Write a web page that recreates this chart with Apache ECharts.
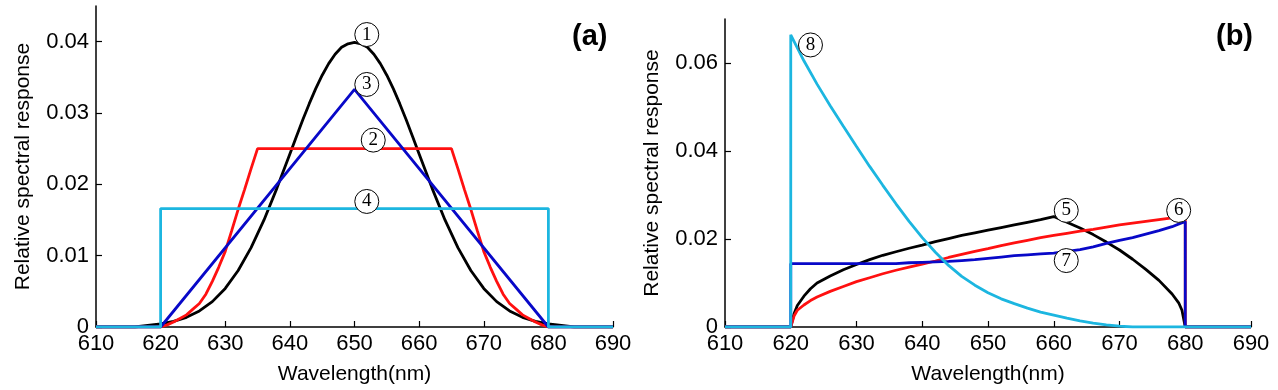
<!DOCTYPE html>
<html><head><meta charset="utf-8">
<script src="https://cdn.jsdelivr.net/npm/echarts@6/dist/echarts.min.js"></script>
<style>html,body{margin:0;padding:0;background:#fff}#c{width:1278px;height:390px}</style>
</head><body><div id="c"></div>
<script>
// ---------- data ----------
const xTicks = [610,620,630,640,650,660,670,680,690];
const yTicksA = [0,0.01,0.02,0.03,0.04];
const yTicksB = [0,0.02,0.04,0.06];

// panel (a)
const a1X = [610,616,618,620,622,624,626,628,630,632,634,636,638,640,641,642,643,644,645,646,647,648,649,650,651,652,653,654,655,656,657,658,659,660,662,664,666,668,670,672,674,676,678,680,682,684,690];
const a1Y = [0,0,0.00024,0.00044,0.00079,0.00136,0.00225,0.00356,0.00541,0.00792,0.01112,0.01501,0.01947,0.02426,0.02668,0.02905,0.03131,0.03341,0.0353,0.03692,0.03824,0.03921,0.0397,0.0399,0.0397,0.03921,0.03824,0.03692,0.0353,0.03341,0.03131,0.02905,0.02668,0.02426,0.01947,0.01501,0.01112,0.00792,0.00541,0.00356,0.00225,0.00136,0.00079,0.00044,0.00024,0,0];
const a2X = [610,620,621,622,623,624,625,626,627,628,629,630,631,632,633,634,635,665,666,667,668,669,670,671,672,673,674,675,676,677,678,679,680,690];
const a2Y = [0,0,0.0003,0.0007,0.0012,0.0017,0.0025,0.0033,0.0046,0.0064,0.0084,0.0106,0.0135,0.0165,0.0193,0.0222,0.025,0.025,0.0222,0.0193,0.0165,0.0135,0.0106,0.0084,0.0064,0.0046,0.0033,0.0025,0.0017,0.0012,0.0007,0.0003,0,0];
const a3X = [610,620,650,680,690];
const a3Y = [0,0,0.0333,0,0];
const a4X = [610,620,620,680,680,690];
const a4Y = [0,0,0.0166,0.0166,0,0];

// panel (b)
const b5X = [610,620,620.5,621,622,623,624,626,628,630,632,634,636,638,640,642,644,646,648,650,652,654,656,658,660,662,664,666,668,670,672,674,676,678,679,679.5,680,690];
const b5Y = [0,0,0.0030,0.0049,0.0070,0.0087,0.0100,0.0116,0.0130,0.0142,0.0153,0.0163,0.0171,0.0179,0.0186,0.0194,0.0201,0.0208,0.0214,0.0220,0.0226,0.0232,0.0238,0.0244,0.0251,0.0238,0.0225,0.0210,0.0193,0.0175,0.0154,0.0131,0.0106,0.0075,0.0055,0.0038,0,0];
const b6X = [610,620,620.5,621,622,623,624,626,628,630,632,634,636,638,640,642,644,646,648,650,652,654,656,658,660,662,664,666,668,670,672,674,676,678,680,680,690];
const b6Y = [0,0,0.0025,0.0038,0.0050,0.0060,0.0068,0.0081,0.0092,0.0103,0.0112,0.0121,0.0129,0.0136,0.0143,0.0150,0.0158,0.0165,0.0172,0.0178,0.0185,0.0191,0.0197,0.0203,0.0208,0.0213,0.0218,0.0222,0.0227,0.0232,0.0236,0.0240,0.0244,0.0248,0.0252,0,0];
const b7X = [610,620,620,636,638,640,642,644,646,648,650,652,654,656,658,660,662,664,666,668,670,672,674,676,678,680,680,690];
const b7Y = [0,0,0.0144,0.0144,0.0146,0.0147,0.0148,0.0149,0.0151,0.0153,0.0156,0.0159,0.0162,0.0164,0.0166,0.0168,0.0172,0.0176,0.0182,0.0190,0.0197,0.0203,0.0211,0.0219,0.0228,0.0240,0,0];
const b8X = [610,620,620,622,624,626,628,630,632,634,636,638,640,642,644,646,648,650,652,654,656,658,660,662,664,666,668,670,672,690];
const b8Y = [0,0,0.0664,0.0605,0.0552,0.0503,0.0456,0.0410,0.0365,0.0322,0.0280,0.0240,0.0203,0.0170,0.0140,0.0115,0.0095,0.0078,0.0064,0.0053,0.0043,0.0034,0.0027,0.0020,0.0014,0.0009,0.0005,0.0002,0,0];

// curve number markers (data coordinates)
const markNums = [1,2,3,4,5,6,7,8];
const markWl   = [651.9,652.9,651.9,651.9,661.9,679.0,661.9,623.0];
const markVal  = [0.0410,0.0262,0.0340,0.0176,0.0265,0.0265,0.0151,0.0641];

// ---------- chart ----------
const FONT = 'Liberation Sans, Arial, sans-serif';
const pairs = (xs, ys) => xs.map((x, i) => [x, ys[i]]);
const mk = i => ({
  symbol: 'circle', symbolSize: 24, silent: true, animation: false,
  itemStyle: {color: '#fff', borderColor: '#000', borderWidth: 1},
  label: {show: true, position: 'inside', color: '#000', fontFamily: 'Liberation Serif, serif', fontSize: 19, formatter: String(markNums[i])},
  data: [{coord: [markWl[i], markVal[i]], value: markNums[i]}]
});
const line = (name, xs, ys, color, grid, mi) => ({
  name, type: 'line', xAxisIndex: grid, yAxisIndex: grid,
  data: pairs(xs, ys), showSymbol: false, symbol: 'none', animation: false,
  lineStyle: {color, width: 2.8}, itemStyle: {color},
  markPoint: mk(mi), z: 2
});
const BLACK = '#000000', RED = '#ff1010', BLUE = '#0808c8', CYAN = '#1cb6e0';

const xAxisBase = gi => ({
  type: 'value', gridIndex: gi, min: 610, max: 690, interval: 10,
  name: 'Wavelength(nm)', nameLocation: 'middle', nameGap: 37,
  nameTextStyle: {fontFamily: FONT, fontSize: 21, color: '#000'},
  axisLine: {show: true, onZero: false, lineStyle: {color: '#000', width: 1.5}},
  axisTick: {show: true, inside: true, length: 6, lineStyle: {color: '#000', width: 1.2}},
  axisLabel: {fontFamily: FONT, fontSize: 22, color: '#000', margin: 6},
  splitLine: {show: false}
});
const yAxisBase = (gi, max, ticks, gap) => ({
  type: 'value', gridIndex: gi, min: 0, max,
  name: 'Relative spectral response', nameLocation: 'middle', nameGap: gap, nameRotate: 90,
  nameTextStyle: {fontFamily: FONT, fontSize: 21, color: '#000'},
  axisLine: {show: true, onZero: false, lineStyle: {color: '#000', width: 1.5}},
  axisTick: {show: true, inside: true, length: 6, customValues: ticks, lineStyle: {color: '#000', width: 1.2}},
  axisLabel: {fontFamily: FONT, fontSize: 22, color: '#000', margin: 7, customValues: ticks,
    formatter: v => (v === 0 ? '0' : String(+v.toFixed(3)))},
  splitLine: {show: false}
});

const chart = echarts.init(document.getElementById('c'), null, {renderer: 'canvas'});
chart.setOption({
  backgroundColor: '#fff',
  animation: false,
  grid: [
    {left: 96, top: 6, width: 517, height: 323},
    {left: 725, top: 19, width: 526, height: 311}
  ],
  xAxis: [xAxisBase(0), xAxisBase(1)],
  yAxis: [yAxisBase(0, 0.045, yTicksA, 62), yAxisBase(1, 0.07, yTicksB, 62)],
  graphic: [
    {type: 'text', left: 572, top: 22, style: {text: '(a)', font: 'bold 29px ' + FONT, fill: '#000'}},
    {type: 'text', left: 1216, top: 22, style: {text: '(b)', font: 'bold 29px ' + FONT, fill: '#000'}}
  ],
  series: [
    line('1', a1X, a1Y, BLACK, 0, 0),
    line('2', a2X, a2Y, RED, 0, 1),
    line('3', a3X, a3Y, BLUE, 0, 2),
    line('4', a4X, a4Y, CYAN, 0, 3),
    line('5', b5X, b5Y, BLACK, 1, 4),
    line('6', b6X, b6Y, RED, 1, 5),
    line('7', b7X, b7Y, BLUE, 1, 6),
    line('8', b8X, b8Y, CYAN, 1, 7)
  ]
});
</script></body></html>
